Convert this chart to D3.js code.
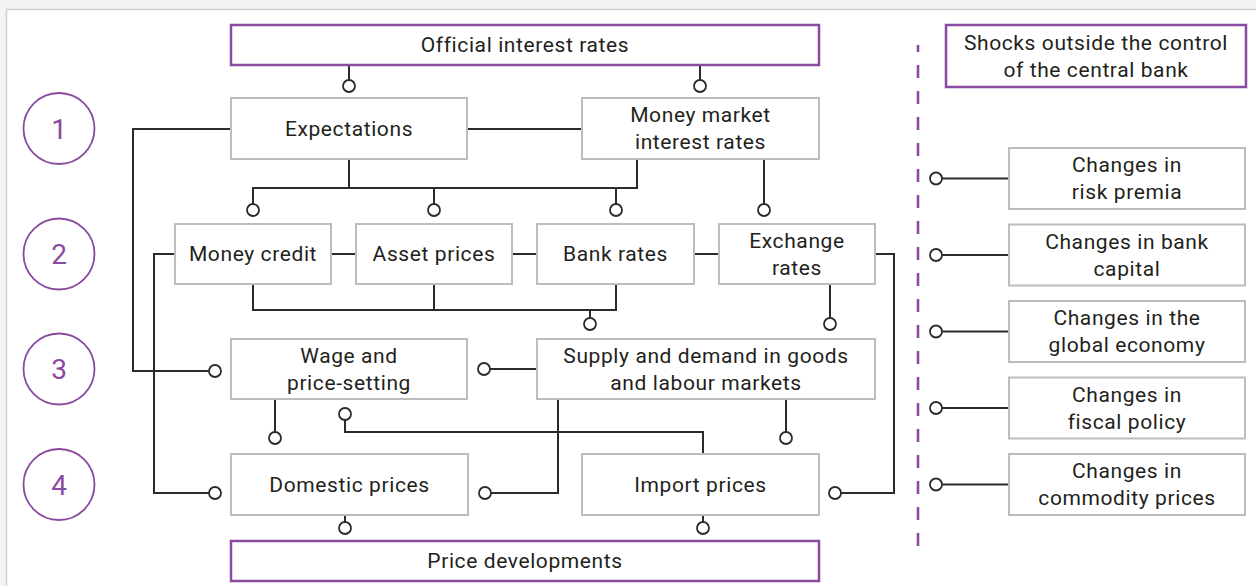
<!DOCTYPE html>
<meta charset="utf-8">
<style>
  body { margin: 0; background: #f3f3f3; }
  svg { display: block; font-family: Roboto, sans-serif; }
  .box-text { font-size: 21px; fill: #231f20; letter-spacing: 0.6px; }
</style>
<body>
<svg id="chart" width="1256" height="586"></svg>
<script src="https://d3js.org/d3.v7.min.js"></script>
<script>
  // ---- content ----
  const stages = ["1", "2", "3", "4"];
  const policyBoxes = ["Official interest rates", "Price developments"];
  const channelNodes = [
    "Expectations", "Money market\ninterest rates",
    "Money credit", "Asset prices", "Bank rates", "Exchange\nrates",
    "Wage and\nprice-setting", "Supply and demand in goods\nand labour markets",
    "Domestic prices", "Import prices"
  ];
  const shocksTitle = "Shocks outside the control\nof the central bank";
  const shocks = [
    "Changes in\nrisk premia",
    "Changes in bank\ncapital",
    "Changes in the\nglobal economy",
    "Changes in\nfiscal policy",
    "Changes in\ncommodity prices"
  ];

  // ---- layout ----
  const purple = "#8a4a9f", ink = "#2b2b2b", boxGrey = "#bdbdbd";
  const rowY = d3.scaleOrdinal().domain(stages).range([128.5, 254, 369, 484.5]);

  const boxes = {
    "Official interest rates": [231, 819, 25, 65],
    "Price developments": [231, 819, 541, 581],
    "Expectations": [231, 467, 98, 159],
    "Money market\ninterest rates": [582, 819, 98, 159],
    "Money credit": [175, 331, 224, 284],
    "Asset prices": [356, 512, 224, 284],
    "Bank rates": [537, 694, 224, 284],
    "Exchange\nrates": [719, 875, 224, 284],
    "Wage and\nprice-setting": [231, 467, 339, 399],
    "Supply and demand in goods\nand labour markets": [537, 875, 339, 399],
    "Domestic prices": [231, 468, 454, 515],
    "Import prices": [582, 819, 454, 515]
  };
  const shockY = d3.scalePoint().domain(shocks).range([148, 454]);
  const shockBox = d => [1009, 1245, shockY(d), shockY(d) + 61];

  // connectors: polylines; "end" true -> open circle at last point
  const links = [
    { pts: [[349, 65], [349, 86]], end: true },
    { pts: [[700, 65], [700, 86]], end: true },
    { pts: [[467, 129], [582, 129]] },
    { pts: [[231, 129], [133, 129], [133, 371], [215, 371]], end: true },
    { pts: [[349, 159], [349, 188]] },
    { pts: [[637, 159], [637, 188], [253, 188], [253, 210]], end: true },
    { pts: [[434, 188], [434, 210]], end: true },
    { pts: [[616, 188], [616, 210]], end: true },
    { pts: [[764, 159], [764, 210]], end: true },
    { pts: [[331, 254], [356, 254]] },
    { pts: [[512, 254], [537, 254]] },
    { pts: [[694, 254], [719, 254]] },
    { pts: [[175, 254], [154, 254], [154, 493], [215, 493]], end: true },
    { pts: [[875, 254], [894, 254], [894, 493], [835, 493]], end: true },
    { pts: [[253, 284], [253, 310], [616, 310], [616, 284]] },
    { pts: [[434, 284], [434, 310]] },
    { pts: [[590, 310], [590, 324]], end: true },
    { pts: [[830, 284], [830, 324]], end: true },
    { pts: [[537, 369], [484, 369]], end: true },
    { pts: [[275, 399], [275, 438]], end: true },
    { pts: [[703, 454], [703, 432], [345, 432], [345, 414]], end: true },
    { pts: [[558, 399], [558, 493], [485, 493]], end: true },
    { pts: [[786, 399], [786, 438]], end: true },
    { pts: [[345, 515], [345, 528]], end: true },
    { pts: [[703, 515], [703, 528]], end: true }
  ];
  shocks.forEach(s => {
    const b = shockBox(s), y = (b[2] + b[3]) / 2;
    links.push({ pts: [[b[0], y], [936, y]], end: true });
  });

  const svg = d3.select("#chart");

  // panel
  svg.append("rect")
    .attr("x", 6.5).attr("y", 9.5).attr("width", 1300).attr("height", 640)
    .attr("fill", "#fff").attr("stroke", "#cfcfcf").attr("stroke-width", 1.5);

  // stage circles
  const st = svg.append("g").selectAll("g").data(stages).join("g")
    .attr("transform", d => `translate(59,${rowY(d)})`);
  st.append("circle").attr("r", 35.5)
    .attr("fill", "none").attr("stroke", purple).attr("stroke-width", 1.8);
  st.append("text").text(d => d)
    .attr("text-anchor", "middle").attr("dy", "0.36em")
    .attr("font-size", 28).attr("fill", purple);

  // dashed divider
  svg.append("line")
    .attr("x1", 918).attr("x2", 918).attr("y1", 45).attr("y2", 558)
    .attr("stroke", purple).attr("stroke-width", 2.6)
    .attr("stroke-dasharray", "13,13").attr("stroke-dashoffset", 6);

  // connectors
  const line = d3.line();
  const lg = svg.append("g");
  lg.selectAll("path").data(links).join("path")
    .attr("d", d => line(d.pts))
    .attr("fill", "none").attr("stroke", ink).attr("stroke-width", 2);
  lg.selectAll("circle").data(links.filter(d => d.end)).join("circle")
    .attr("cx", d => d.pts[d.pts.length - 1][0])
    .attr("cy", d => d.pts[d.pts.length - 1][1])
    .attr("r", 6).attr("fill", "#fff").attr("stroke", ink).attr("stroke-width", 1.8);

  // boxes
  function drawBox(label, b, stroke, sw) {
    const g = svg.append("g");
    g.append("rect")
      .attr("x", b[0]).attr("y", b[2])
      .attr("width", b[1] - b[0]).attr("height", b[3] - b[2])
      .attr("fill", "#fff").attr("stroke", stroke).attr("stroke-width", sw);
    const lines = label.split("\n");
    const cx = (b[0] + b[1]) / 2, cy = (b[2] + b[3]) / 2;
    const lh = 27;
    g.append("text").attr("class", "box-text")
      .attr("text-anchor", "middle")
      .selectAll("tspan").data(lines).join("tspan")
      .attr("x", cx)
      .attr("y", (d, i) => cy + (i - (lines.length - 1) / 2) * lh)
      .attr("dy", "0.35em")
      .text(d => d);
  }

  policyBoxes.forEach(p => drawBox(p, boxes[p], purple, 2.5));
  channelNodes.forEach(n => drawBox(n, boxes[n], boxGrey, 2));
  drawBox(shocksTitle, [946, 1246, 25, 87], purple, 2.5);
  shocks.forEach(s => drawBox(s, shockBox(s), boxGrey, 2));
</script>
</body>
